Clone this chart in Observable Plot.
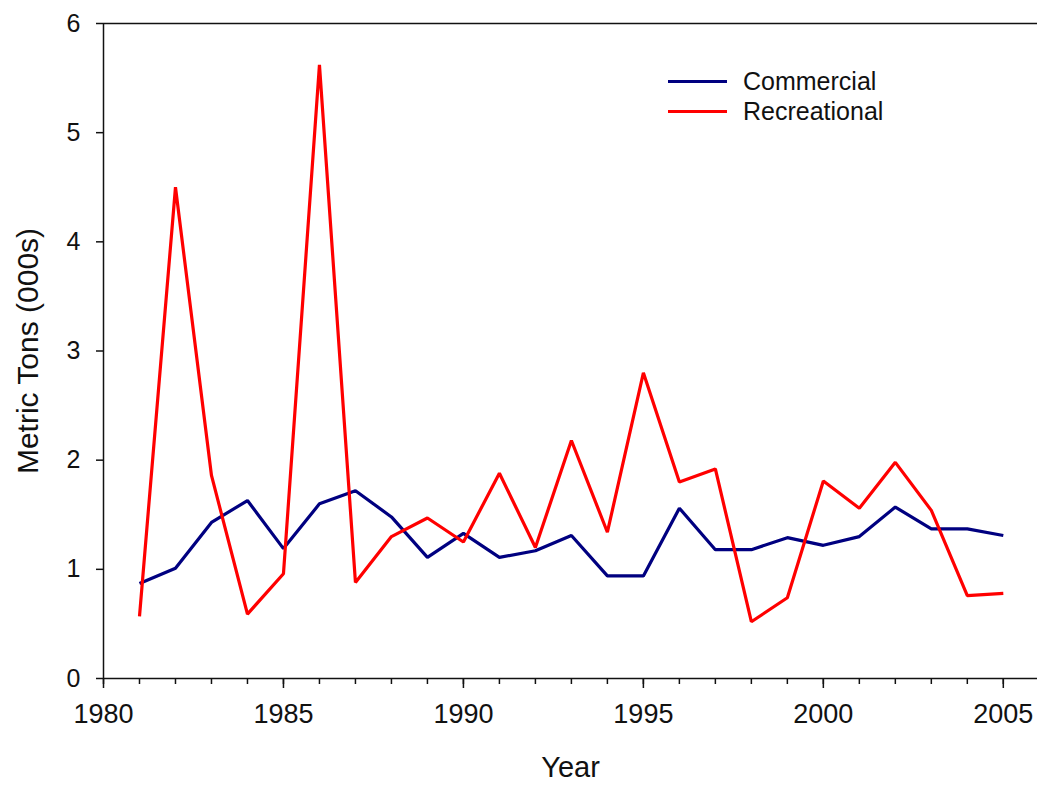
<!DOCTYPE html>
<html>
<head>
<meta charset="utf-8">
<script src="https://cdn.jsdelivr.net/npm/d3@7"></script>
<script src="https://cdn.jsdelivr.net/npm/@observablehq/plot@0.6"></script>
<style>
  html, body { margin: 0; padding: 0; background: #fff; }
  #wrap { position: relative; width: 1037px; height: 785px; font-family: "Liberation Sans", Arial, sans-serif; }
  #legend { position: absolute; left: 668px; top: 66px; font-size: 25px; color: #111; }
  #legend .item { display: flex; align-items: center; height: 30px; }
  #legend .swatch { width: 59px; height: 3px; margin-right: 16px; }
</style>
</head>
<body>
<div id="wrap"></div>
<script>
const years = [1981,1982,1983,1984,1985,1986,1987,1988,1989,1990,1991,1992,1993,1994,1995,1996,1997,1998,1999,2000,2001,2002,2003,2004,2005];
const commercial = [0.87,1.01,1.43,1.63,1.19,1.60,1.72,1.48,1.11,1.33,1.11,1.17,1.31,0.94,0.94,1.56,1.18,1.18,1.29,1.22,1.30,1.57,1.37,1.37,1.31];
const recreational = [0.57,4.50,1.86,0.59,0.96,5.62,0.88,1.30,1.47,1.25,1.88,1.20,2.18,1.34,2.80,1.80,1.92,0.52,0.74,1.81,1.56,1.98,1.54,0.76,0.78];
const seriesNames = ["Commercial", "Recreational"];
const seriesColors = ["#000080", "#ff0000"];
const majorTicks = [1980, 1985, 1990, 1995, 2000, 2005];
const minorTicks = d3.range(1980, 2006);
const yTicks = [0, 1, 2, 3, 4, 5, 6];

const rows = [];
years.forEach((yr, i) => {
  rows.push({year: yr, value: commercial[i], series: seriesNames[0]});
  rows.push({year: yr, value: recreational[i], series: seriesNames[1]});
});

const chart = Plot.plot({
  width: 1037,
  height: 785,
  marginLeft: 103,
  marginRight: 0,
  marginTop: 23,
  marginBottom: 107,
  style: {fontFamily: '"Liberation Sans", Arial, sans-serif', fontSize: "26px", color: "#111", background: "#fff", overflow: "visible"},
  x: {domain: [1980, 2005.95]},
  y: {domain: [0, 6]},
  color: {domain: seriesNames, range: seriesColors},
  marks: [
    Plot.axisX({ticks: minorTicks, tickSize: 6, tickFormat: () => "", strokeWidth: 1.5, label: null}),
    Plot.axisX({ticks: majorTicks, tickSize: 10, tickPadding: 15, tickFormat: d => String(d), fontSize: 27, strokeWidth: 1.5, label: null}),
    Plot.axisY({ticks: yTicks, tickSize: 7, tickPadding: 16, tickFormat: d => String(d), fontSize: 25, strokeWidth: 1.5, label: null}),
    Plot.ruleY([0], {strokeWidth: 1.5, stroke: "#111"}),
    Plot.ruleY([6], {strokeWidth: 1.5, stroke: "#111"}),
    Plot.ruleX([1980], {strokeWidth: 1.5, stroke: "#111"}),
    Plot.lineY(rows, {x: "year", y: "value", stroke: "series", z: "series", strokeWidth: 3.2, strokeLinejoin: "miter", strokeLinecap: "butt"}),
    Plot.text(["Year"], {frameAnchor: "bottom", dy: 89, fontSize: 29, fill: "#111", lineAnchor: "middle"}),
    Plot.text(["Metric Tons (000s)"], {frameAnchor: "left", dx: -75, rotate: -90, fontSize: 30, fill: "#111", textAnchor: "middle", lineAnchor: "middle"})
  ]
});

const wrap = document.getElementById("wrap");
wrap.appendChild(chart);

const legend = document.createElement("div");
legend.id = "legend";
seriesNames.forEach((name, i) => {
  const item = document.createElement("div");
  item.className = "item";
  const sw = document.createElement("span");
  sw.className = "swatch";
  sw.style.background = seriesColors[i];
  const label = document.createElement("span");
  label.textContent = name;
  item.appendChild(sw);
  item.appendChild(label);
  legend.appendChild(item);
});
wrap.appendChild(legend);
</script>
</body>
</html>
